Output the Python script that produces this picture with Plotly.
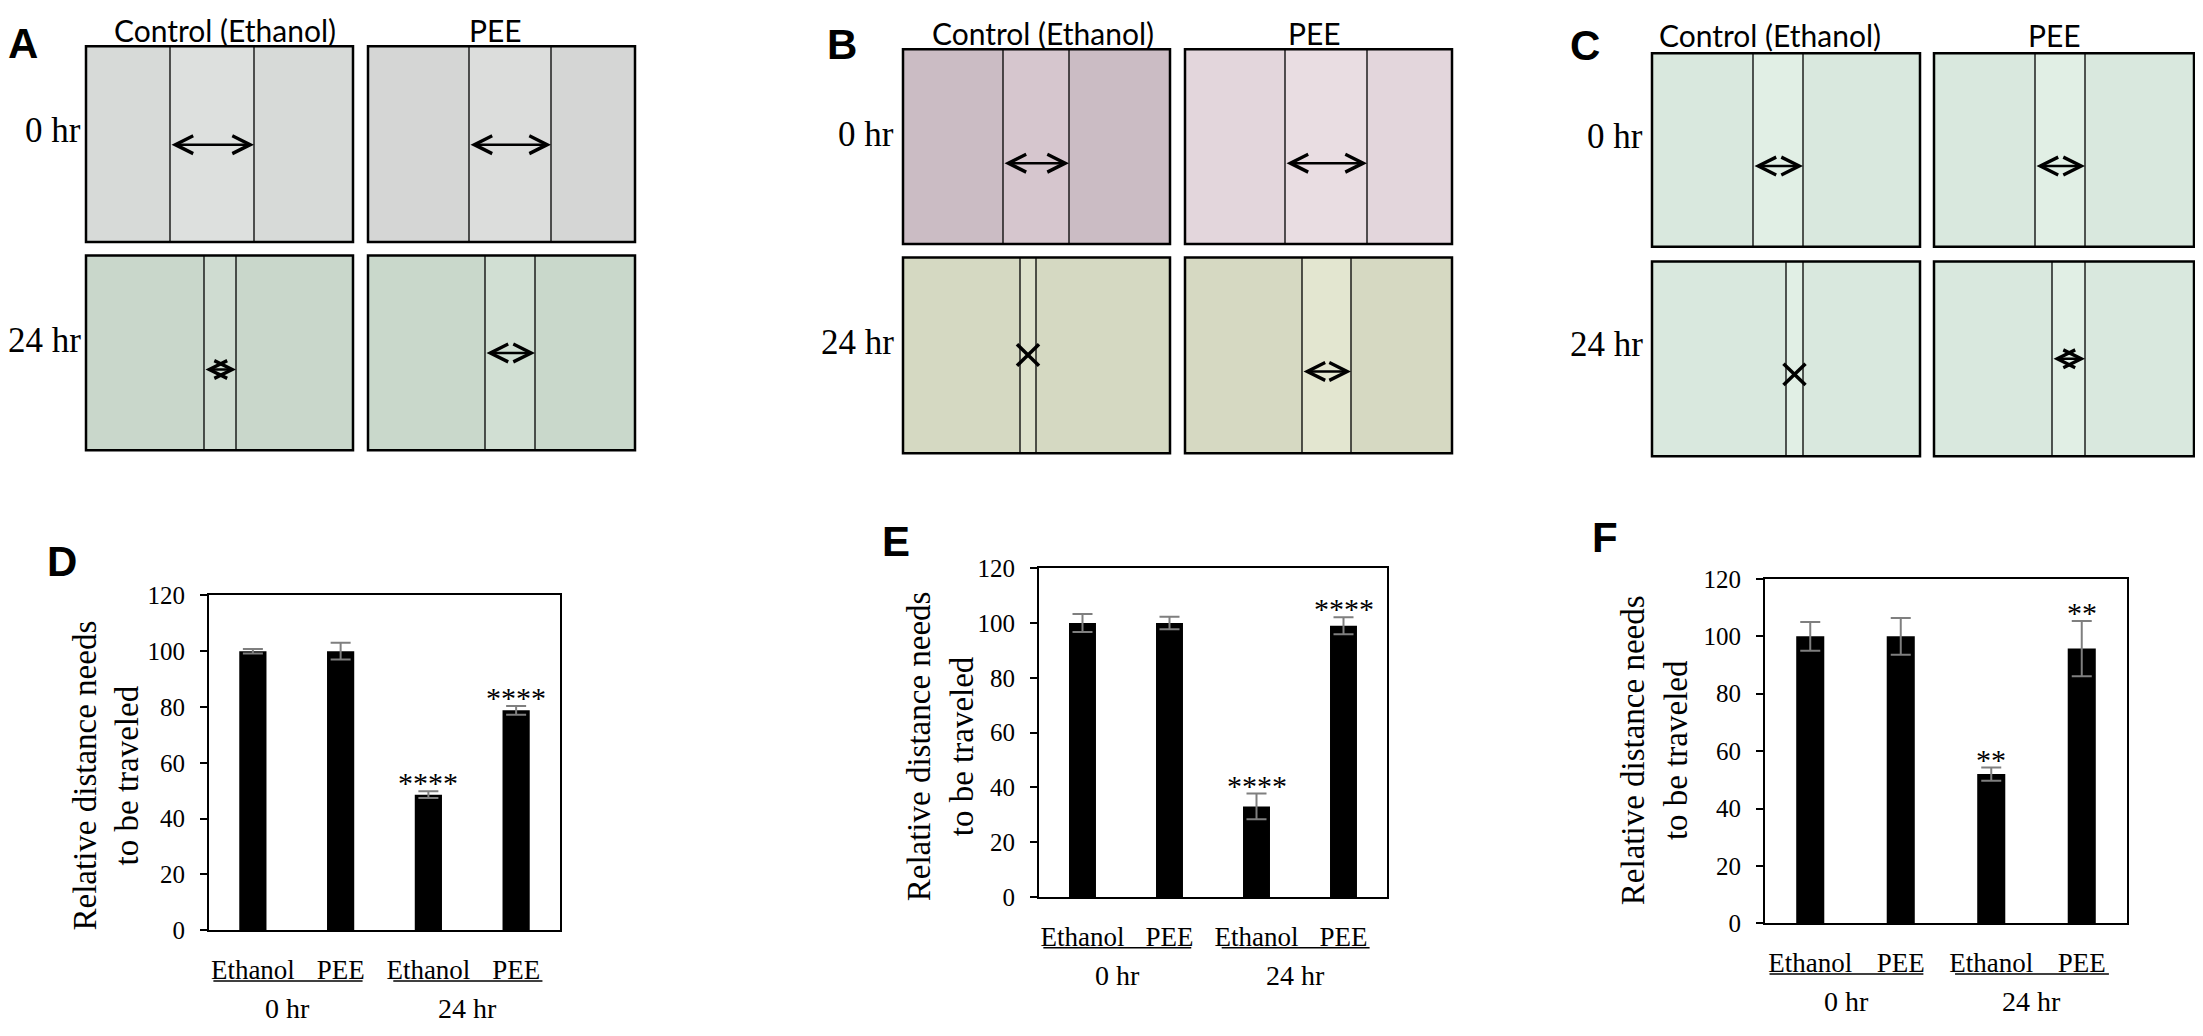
import plotly.graph_objects as go

# figure size (body margin of 8px is left around the plot)
W, H = 2187, 1020
OFF = 8


def fx(x):
    return (x - OFF) / W


def fy(y):
    return 1 - (y - OFF) / H


# ---- data ----
treatments = ["Ethanol", "PEE", "Ethanol", "PEE"]
time_points = ["0 hr", "24 hr"]

d_values = [100, 100, 48.6, 78.8]
d_errors = [0.8, 3.0, 1.2, 1.6]
d_stars = ["", "", "****", "****"]

e_values = [100, 100, 33.1, 99.0]
e_errors = [3.3, 2.3, 4.7, 3.1]
e_stars = ["", "", "****", "****"]

f_values = [100, 100, 52.0, 95.7]
f_errors = [5.0, 6.4, 2.3, 9.6]
f_stars = ["", "", "**", "**"]

col_headers = ["Control (Ethanol)", "PEE"]

SERIF = "Liberation Serif"
SANS = "Liberation Sans"

fig = go.Figure()
shapes = []
annotations = []


def text_at(text, x, y, size, family, xanchor="center", **kw):
    annotations.append(dict(text=text, x=fx(x), y=fy(y), xref="paper", yref="paper",
                            xanchor=xanchor, yanchor="middle", showarrow=False,
                            font=dict(family=family, size=size, color="black",
                                      weight=kw.pop("weight", "normal")), **kw))


# ---- scratch-assay photo panels (A, B, C) ----
# box: x0, y0, x1, y1, gap x0, gap x1, background, gap colour, arrow y, mark
photo_panels = [
    dict(label="A", label_xy=(23, 31), header_x=(225, 495), header_y=17,
         row_label_x=83, row_label_y=(120, 336),
         boxes=[(86, 34, 353, 235, 170, 254, "#d7dad8", "#dde0de", 135, "arrow"),
                (368, 34, 635, 235, 469, 551, "#d5d6d5", "#dcdddc", 135, "arrow"),
                (86, 249, 353, 449, 204, 236, "#c9d7cb", "#cfdcd1", 366, "arrow"),
                (368, 249, 635, 449, 485, 535, "#c9d8cb", "#d1dfd3", 349, "arrow")]),
    dict(label="B", label_xy=(842, 32), header_x=(1043, 1314), header_y=20,
         row_label_x=896, row_label_y=(125, 338),
         boxes=[(903, 37, 1170, 237, 1003, 1069, "#cbbcc4", "#d6c6ce", 154, "arrow"),
                (1185, 37, 1452, 237, 1285, 1367, "#e3d6dc", "#e9dde2", 154, "arrow"),
                (903, 251, 1170, 452, 1020, 1036, "#d5d9c2", "#dde1cb", 351, "x"),
                (1185, 251, 1452, 452, 1302, 1351, "#d6d9c2", "#e3e6d0", 368, "arrow")]),
    dict(label="C", label_xy=(1585, 33), header_x=(1770, 2055), header_y=22,
         row_label_x=1645, row_label_y=(127, 340),
         boxes=[(1652, 41, 1920, 240, 1753, 1803, "#d9e8de", "#e1efe5", 157, "arrow"),
                (1934, 41, 2194, 240, 2035, 2085, "#d9e8de", "#e1efe5", 157, "arrow"),
                (1652, 255, 1920, 455, 1786, 1803, "#d9e8de", "#e1efe5", 371, "x"),
                (1934, 255, 2194, 455, 2052, 2085, "#d9e8de", "#e1efe5", 355, "arrow")]),
]

for p in photo_panels:
    text_at(p["label"], p["label_xy"][0], p["label_xy"][1], 42, SANS, weight="bold")
    for hx, ht in zip(p["header_x"], col_headers):
        text_at(ht, hx, p["header_y"], 30, "Lato")
    for ry, rt in zip(p["row_label_y"], time_points):
        text_at(rt, p["row_label_x"], ry, 35, SERIF, xanchor="right")
    for x0, y0, x1, y1, g0, g1, bg, gbg, ay, mark in p["boxes"]:
        shapes.append(dict(type="rect", xref="paper", yref="paper", x0=fx(g0), x1=fx(g1),
                           y0=fy(y1), y1=fy(y0), fillcolor=gbg, line=dict(width=0),
                           layer="below"))
        shapes.append(dict(type="path", xref="paper", yref="paper", layer="below",
                           fillcolor=bg, line=dict(width=0),
                           path=f"M{fx(x0)},{fy(y0)} L{fx(g0)},{fy(y0)} L{fx(g0)},{fy(y1)} "
                                f"L{fx(x0)},{fy(y1)} Z M{fx(g1)},{fy(y0)} L{fx(x1)},{fy(y0)} "
                                f"L{fx(x1)},{fy(y1)} L{fx(g1)},{fy(y1)} Z"))
        for gx in (g0, g1):
            shapes.append(dict(type="line", xref="paper", yref="paper", x0=fx(gx), x1=fx(gx),
                               y0=fy(y0), y1=fy(y1), line=dict(color="black", width=1.3)))
        shapes.append(dict(type="rect", xref="paper", yref="paper", x0=fx(x0), x1=fx(x1),
                           y0=fy(y1), y1=fy(y0), line=dict(color="black", width=2.5)))
        if mark == "arrow":
            annotations.append(dict(text="", x=fx(g1), y=fy(ay), xref="paper", yref="paper",
                                    ax=-(g1 - g0), ay=0, showarrow=True, arrowside="end+start",
                                    arrowhead=5, startarrowhead=5, arrowsize=1.4, startarrowsize=1.4,
                                    arrowwidth=2.5, arrowcolor="black", standoff=0, startstandoff=0))
        else:
            cx = (g0 + g1) / 2
            for sx in (-1, 1):
                shapes.append(dict(type="line", xref="paper", yref="paper",
                                   x0=fx(cx - 11 * sx), x1=fx(cx + 11 * sx),
                                   y0=fy(ay - 11), y1=fy(ay + 11),
                                   line=dict(color="black", width=3.5)))

# ---- bar charts (D, E, F) ----
charts = [
    dict(label="D", values=d_values, errors=d_errors, stars=d_stars,
         box=(209, 598, 560, 942), label_xy=(62, 563), title_xy=(106, 783)),
    dict(label="E", values=e_values, errors=e_errors, stars=e_stars,
         box=(1039, 570, 1387, 908), label_xy=(896, 543), title_xy=(940, 753)),
    dict(label="F", values=f_values, errors=f_errors, stars=f_stars,
         box=(1765, 581, 2127, 935), label_xy=(1605, 539), title_xy=(1654, 757)),
]

idx = list(range(len(treatments)))
group_spans = [(-0.45, 1.25), (1.6, 3.3)]
group_centers = [0.4, 2.45]
layout_axes = {}

for i, c in enumerate(charts):
    n = "" if i == 0 else str(i + 1)
    xa, ya = "x" + n, "y" + n
    x0, y0, x1, y1 = c["box"]
    fig.add_trace(go.Bar(
        x=idx, y=c["values"], xaxis=xa, yaxis=ya, showlegend=False,
        marker=dict(color="black", line=dict(width=0)),
        error_y=dict(type="data", array=c["errors"], color="#7f7f7f", thickness=2, width=10),
    ))
    layout_axes["xaxis" + n] = dict(
        domain=[fx(x0), fx(x1)], range=[-0.5, 3.5], anchor=ya,
        tickvals=idx, ticktext=treatments, ticks="", ticklabelstandoff=14,
        showline=True, linecolor="black", linewidth=2, mirror=True,
        showgrid=False, zeroline=False,
        tickfont=dict(family=SERIF, size=27, color="black"))
    layout_axes["yaxis" + n] = dict(
        domain=[fy(y1), fy(y0)], range=[0, 120], dtick=20, anchor=xa,
        ticks="outside", ticklen=7, tickwidth=2, tickcolor="black", ticklabelstandoff=10,
        showline=True, linecolor="black", linewidth=2, mirror=True,
        showgrid=False, zeroline=False,
        tickfont=dict(family=SERIF, size=25, color="black"))

    text_at(c["label"], c["label_xy"][0], c["label_xy"][1], 42, SANS, weight="bold")
    text_at("Relative distance needs<br>to be traveled", c["title_xy"][0], c["title_xy"][1],
            33, SERIF, textangle=-90)
    for k, (v, e, s) in enumerate(zip(c["values"], c["errors"], c["stars"])):
        if s:
            annotations.append(dict(text=s, x=k, y=v + e, xref=xa, yref=ya,
                                    xanchor="center", yanchor="bottom",
                                    yshift=-10, showarrow=False,
                                    font=dict(family=SERIF, size=30, color="black")))
    for (s0, s1), gc, gt in zip(group_spans, group_centers, time_points):
        shapes.append(dict(type="line", xref=xa, yref="paper", x0=s0, x1=s1,
                           y0=fy(y1 + 52), y1=fy(y1 + 52), line=dict(color="black", width=1.5)))
        annotations.append(dict(text=gt, x=gc, y=fy(y1 + 80), xref=xa, yref="paper",
                                xanchor="center", yanchor="middle", showarrow=False,
                                font=dict(family=SERIF, size=28, color="black")))

fig.update_layout(
    width=W, height=H, margin=dict(l=0, r=0, t=0, b=0),
    paper_bgcolor="white", plot_bgcolor="white",
    bargap=0.69, shapes=shapes, annotations=annotations,
    **layout_axes,
)

fig.write_html("out.html")
